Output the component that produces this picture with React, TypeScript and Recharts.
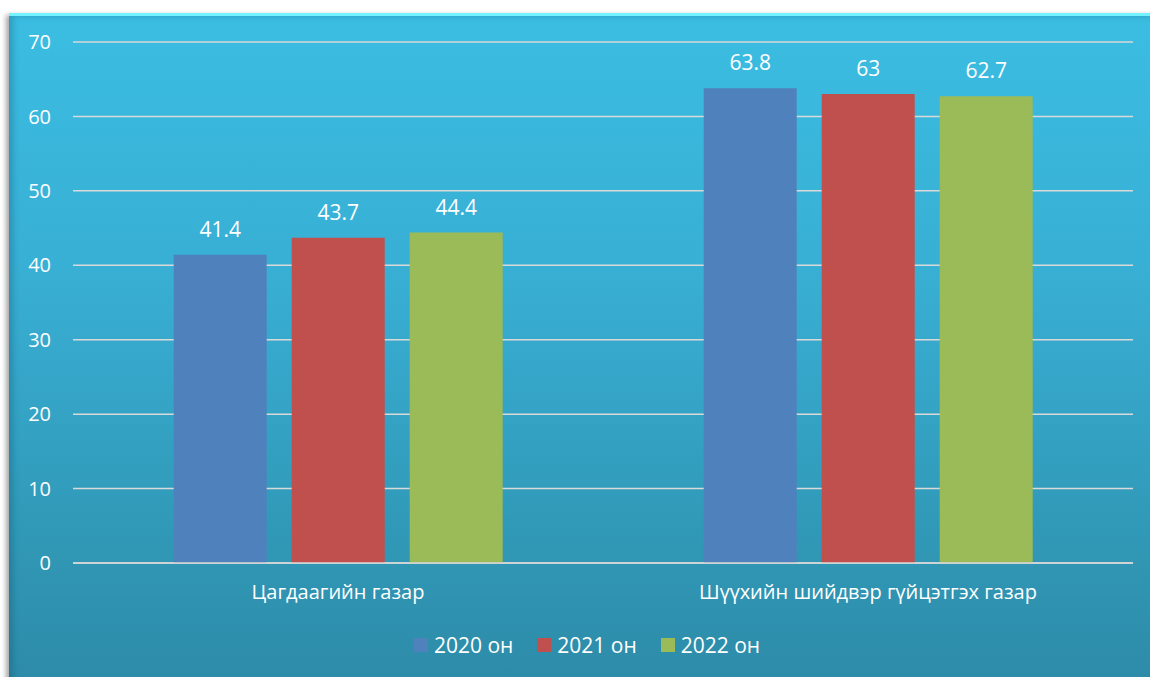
import { Bar, BarChart, CartesianGrid, LabelList, Legend, XAxis, YAxis } from "recharts";

const categories = ["Цагдаагийн газар", "Шүүхийн шийдвэр гүйцэтгэх газар"];
const series2020 = [41.4, 63.8];
const series2021 = [43.7, 63];
const series2022 = [44.4, 62.7];
const yTicks = [0, 10, 20, 30, 40, 50, 60, 70];

const SERIES = [
  { key: "y2020", name: "2020 он", values: series2020, color: "#4f81bd" },
  { key: "y2021", name: "2021 он", values: series2021, color: "#c0504d" },
  { key: "y2022", name: "2022 он", values: series2022, color: "#9bbb59" },
];

const rows = categories.map((name, i) => {
  const row: Record<string, string | number> = { name };
  SERIES.forEach((s) => (row[s.key] = s.values[i]));
  return row;
});

const FONT = "'Open Sans', 'Noto Sans', sans-serif";

function LegendContent() {
  return (
    <div
      style={{
        display: "flex",
        justifyContent: "center",
        gap: 24,
        fontFamily: FONT,
        fontSize: 21,
        color: "#fff",
        paddingTop: 4,
        paddingLeft: 8,
      }}
    >
      {SERIES.map((s) => (
        <div key={s.key} style={{ display: "flex", alignItems: "center", gap: 6 }}>
          <span style={{ width: 14, height: 14, background: s.color, display: "inline-block" }} />
          <span>{s.name}</span>
        </div>
      ))}
    </div>
  );
}

export default function App() {
  return (
    <div style={{ position: "fixed", left: 0, top: 0, width: 1150, height: 677, background: "#fff", overflow: "hidden" }}>
      <div
        style={{
          position: "absolute",
          left: 9,
          top: 13,
          width: 1150,
          height: 670,
          background: "linear-gradient(to bottom, #3bbde2 0%, #38aed3 40%, #3097b5 80%, #2d8ba8 100%)",
          borderTop: "3px solid #74f2ff",
          boxShadow: "-3px 2px 5px rgba(0,0,0,0.35), inset 4px 0 6px rgba(0,60,90,0.25)",
        }}
      />
      <div style={{ position: "absolute", left: 0, top: 0 }}>
        <BarChart
          width={1150}
          height={677}
          data={rows}
          margin={{ top: 42, right: 17, left: 33, bottom: 0 }}
          barCategoryGap="19%"
          barGap={25}
        >
          <CartesianGrid vertical={false} stroke="#d9d9d9" strokeWidth={1.5} />
          <XAxis
            dataKey="name"
            axisLine={{ stroke: "#d9d9d9", strokeWidth: 1.5 }}
            tickLine={false}
            tickSize={0}
            tickMargin={22}
            height={64}
            tick={{ fill: "#fff", fontSize: 20, fontFamily: FONT }}
          />
          <YAxis
            domain={[0, 70]}
            ticks={yTicks}
            axisLine={false}
            tickLine={false}
            tickSize={0}
            tickMargin={22}
            width={40}
            tick={{ fill: "#fff", fontSize: 20, fontFamily: FONT }}
          />
          <Legend verticalAlign="bottom" height={50} content={<LegendContent />} />
          {SERIES.map((s) => (
            <Bar key={s.key} dataKey={s.key} name={s.name} fill={s.color} isAnimationActive={false}>
              <LabelList dataKey={s.key} position="top" offset={18} fill="#fff" fontSize={21} fontFamily={FONT} />
            </Bar>
          ))}
        </BarChart>
      </div>
    </div>
  );
}
